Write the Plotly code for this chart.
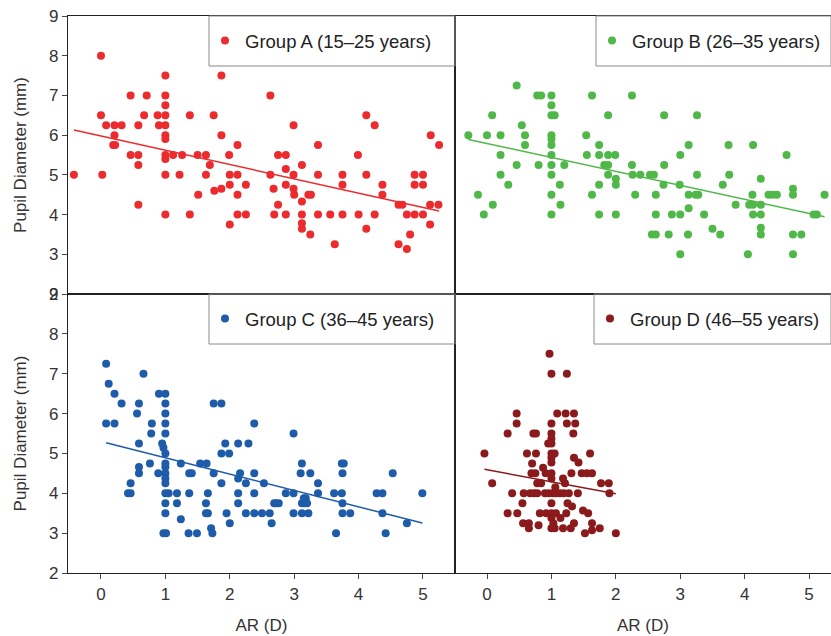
import numpy as np
import plotly.graph_objects as go

# ---------------- data ----------------
groups = ["Group A (15\u201325 years)", "Group B (26\u201335 years)",
          "Group C (36\u201345 years)", "Group D (46\u201355 years)"]
colors = ["#EC2B2E", "#4FB848", "#1E5BA8", "#8A1A1C"]

A_x = [-0.42, 0, 0, 0.02, 0.08, 0.21, 0.32, 0.21, 0.19, 0.22, 0.46, 0.71, 0.67, 0.58, 0.46, 0.58, 0.58, 0.58,
       0.88, 0.9, 1, 1, 1, 1, 1, 1, 1, 1, 1, 1, 1, 1.12, 1.22, 1.26, 1.38, 1.38, 1.5, 1.51, 1.63, 1.69, 1.63,
       1.75, 1.87, 1.87, 1.76, 1.87, 1.99, 2.0, 2.12, 2.12, 2.0, 2.12, 2.25, 2.12, 2.25, 2.0,
       2.63, 2.99, 2.75, 2.87, 3.12, 3.37, 2.63, 2.87, 2.99, 2.68, 2.87, 2.99, 3.0, 2.75, 3.12, 3.22, 3.26,
       2.69, 2.87, 3.12, 3.12, 3.12, 3.25, 3.37, 3.37, 3.56, 3.63, 3.75, 3.75, 3.75, 3.99, 4.12, 4.25, 4.12,
       4.0, 4.25, 4.12, 4.37, 4.37, 4.62, 4.68, 4.75, 4.87, 5.0, 4.87, 5.0, 4.87, 5.0, 4.8, 4.62, 4.75,
       5.11, 5.24, 5.12, 5.25, 5.11]
A_y = [5.0, 8.0, 6.5, 5.0, 6.25, 6.25, 6.25, 6.0, 5.75, 5.75, 7.0, 7.0, 6.5, 6.25, 5.5, 5.5, 5.25, 4.25,
       6.5, 6.25, 7.5, 7.0, 6.75, 6.5, 6.25, 6.0, 5.9, 5.5, 5.4, 5.0, 4.0, 5.5, 5.0, 5.5, 6.5, 4.0, 5.5, 4.5,
       5.5, 5.25, 5.0, 6.5, 7.5, 6.0, 4.6, 4.65, 5.5, 5.0, 5.0, 5.75, 4.75, 4.5, 4.75, 4.0, 4.0, 3.75,
       7.0, 6.25, 5.5, 5.5, 5.25, 5.75, 5.0, 5.15, 5.0, 4.65, 4.75, 4.65, 4.5, 4.25, 4.33, 4.5, 4.5,
       4.0, 4.0, 4.0, 3.78, 3.64, 3.5, 5.0, 4.0, 4.0, 3.25, 5.0, 4.75, 4.0, 5.5, 6.5, 6.25, 5.0,
       4.0, 4.0, 3.64, 4.75, 4.5, 4.25, 4.25, 4.0, 4.0, 4.0, 5.0, 5.0, 4.75, 4.75, 3.5, 3.25, 3.13,
       4.25, 4.25, 6.0, 5.75, 3.75]

B_x = [-0.29, 0, 0.21, 0.08, -0.14, -0.05, 0.09, 0.21, 0.21, 0.33, 0.46, 0.46, 0.54, 0.59, 0.59, 0.78, 0.84,
       0.8, 1, 1, 1, 1.05, 1, 1, 1, 1, 1, 1, 1, 1, 1.13, 1.14, 1.2, 1.54, 1.55, 1.63, 1.63, 1.74, 1.74, 1.88,
       1.82, 1.88, 1.88, 1.88, 1.74, 1.74, 1.99, 2.0, 2.0, 2.0, 2.25, 2.25, 2.26, 2.38, 2.3,
       2.53, 2.59, 2.75, 3.26, 2.75, 2.74, 2.99, 2.62, 3.0, 3.13, 3.26, 3.13, 3.24, 3.28, 3.13, 2.62, 2.87,
       3.0, 3.37, 2.56, 2.62, 2.82, 3.12, 3.0, 3.5, 3.62, 3.66, 3.75, 3.76, 3.86, 4.13, 4.07, 4.13, 4.12,
       4.13, 4.25, 4.25, 4.25, 4.25, 4.25, 4.05, 4.37, 4.43, 4.5, 4.65, 4.75, 4.75, 4.75, 4.88, 4.75,
       5.07, 5.12, 5.24]
B_y = [6.0, 6.0, 6.0, 6.5, 4.5, 4.0, 4.25, 5.5, 5.0, 4.75, 7.25, 5.25, 6.25, 6.0, 5.75, 7.0, 7.0,
       5.25, 7.0, 6.75, 6.5, 6.5, 6.0, 5.9, 5.75, 5.5, 5.25, 5.0, 4.5, 4.0, 4.75, 4.25, 5.25, 6.0, 5.5, 7.0,
       4.5, 5.75, 5.5, 5.5, 5.25, 5.25, 6.5, 5.0, 4.75, 4.0, 5.5, 4.9, 4.75, 4.0, 7.0, 5.25, 5.0, 5.0, 4.5,
       5.0, 5.0, 6.5, 6.5, 5.25, 4.75, 4.75, 4.5, 5.5, 5.75, 5.0, 4.5, 4.5, 4.5, 4.16, 4.0, 4.0,
       4.0, 4.0, 3.5, 3.5, 3.5, 3.5, 3.0, 3.64, 3.5, 4.75, 5.75, 5.0, 4.25, 5.75, 4.25, 4.25, 4.5,
       4.0, 4.0, 4.9, 4.25, 3.67, 3.5, 3.0, 4.5, 4.5, 4.5, 5.5, 4.65, 4.5, 3.5, 3.5, 3.0,
       4.0, 4.0, 4.5]

C_x = [0.08, 0.12, 0.21, 0.32, 0.08, 0.21, 0.66, 0.59, 0.56, 0.59, 0.59, 0.59, 0.46, 0.42, 0.46, 0.76, 0.79,
       0.78, 0.9, 1, 1, 1, 1, 1, 0.95, 0.97, 1, 1, 1, 1, 1, 1, 0.89, 1, 1.05, 1, 1, 0.97, 1.01, 1.18, 1.18,
       1.24, 1.24, 1.37, 1.41, 1.37, 1.36, 1.49, 1.54, 1.64, 1.63, 1.63, 1.66, 1.66, 1.71, 1.73, 1.75, 1.75,
       1.87, 1.87, 1.93, 1.87, 1.99, 1.95, 2.0, 2.13, 2.13, 2.16, 2.13, 2.13, 2.25, 2.29, 2.38, 2.38, 2.38,
       2.25, 2.38, 2.5, 2.53, 2.62, 2.65, 2.69, 2.72, 2.76, 2.87, 2.99, 2.99, 2.99, 3.12, 3.1, 3.25, 3.12,
       3.16, 3.2, 3.15, 3.18, 3.12, 3.22, 3.37, 3.37, 3.62, 3.65, 3.74, 3.77, 3.75, 3.74, 3.75, 3.75, 3.87,
       4.28, 4.37, 4.53, 4.37, 4.42, 4.75, 4.99]
C_y = [7.25, 6.75, 6.5, 6.25, 5.75, 5.75, 7.0, 6.25, 6.0, 5.25, 4.66, 4.5, 4.25, 4.0, 4.0, 4.75, 5.75,
       5.5, 6.5, 6.5, 6.25, 6.0, 5.75, 5.5, 5.25, 5.14, 5.0, 4.75, 4.66, 4.5, 4.37, 4.25, 4.5, 4.0, 4.0,
       3.75, 3.5, 3.0, 3.0, 4.0, 3.75, 4.75, 3.35, 4.5, 4.5, 4.0, 3.0, 3.0, 4.75, 4.75, 3.75, 3.5, 3.5, 4.0,
       3.12, 3.0, 4.5, 6.25, 6.25, 4.25, 5.25, 5.0, 5.0, 3.5, 3.25, 5.25, 4.37, 4.5, 4.0, 3.75, 4.25, 5.25,
       5.75, 4.5, 4.0, 3.5, 3.5, 3.5, 4.25, 3.5, 3.25, 3.75, 3.75, 3.75, 4.0, 5.5, 4.0, 3.5, 4.75, 4.5,
       4.5, 3.75, 3.75, 3.75, 3.875, 3.875, 3.5, 3.5, 4.25, 4.0, 4.0, 3.0, 4.75, 4.75, 4.5, 4.0, 3.75,
       3.5, 3.5, 4.0, 4.0, 4.5, 3.5, 3.0, 3.25, 4.0]

D_x = [0.97, 1.0, 1.24, 0.46, 0.46, 0.32, 0.72, 0.76, 1.0, 1.0, 1.0, 0.95, 1.0, 1.09, 1.22, 1.35, 1.24, 1.37,
       1.34, -0.04, 0.62, 0.76, 1.0, 1.05, 1.0, 1.0, 0.7, 1.35, 1.42, 1.6, 0.87, 0.69, 0.75, 0.91, 1.0, 1.31,
       1.47, 1.55, 1.63, 1.0, 1.18, 0.08, 0.78, 0.84, 1.21, 1.77, 1.89, 0.39, 0.57, 0.67, 0.73, 0.78, 0.9,
       0.96, 1.02, 1.07, 1.13, 1.19, 1.27, 1.41, 1.9, 1.06, 0.55, 1.0, 1.25, 1.32, 0.32, 0.47, 0.82, 0.92,
       1.0, 1.07, 1.23, 1.49, 1.57, 1.0, 1.14, 0.56, 0.65, 0.8, 0.65, 1.0, 1.05, 1.18, 1.35, 1.3, 1.63,
       1.63, 1.75, 1.52, 2.0, 1.03]
D_y = [7.5, 7.0, 7.0, 6.0, 5.75, 5.5, 5.5, 5.5, 5.75, 5.5, 5.37, 5.25, 5.25, 6.0, 6.0, 6.0, 5.75, 5.75,
       5.5, 5.0, 5.0, 5.0, 5.0, 5.0, 4.89, 4.77, 4.75, 4.89, 4.77, 5.0, 4.64, 4.5, 4.5, 4.5, 4.5, 4.5,
       4.5, 4.5, 4.5, 4.37, 4.37, 4.25, 4.25, 4.25, 4.25, 4.25, 4.25, 4.0, 4.0, 4.0, 4.0, 4.0, 4.0,
       4.0, 4.0, 4.0, 4.0, 4.0, 4.0, 4.0, 4.0, 4.15, 3.75, 3.75, 3.75, 3.67, 3.5, 3.5, 3.5, 3.5,
       3.5, 3.5, 3.5, 3.57, 3.5, 3.38, 3.38, 3.25, 3.25, 3.2, 3.12, 3.12, 3.12, 3.12, 3.25, 3.12, 3.25,
       3.07, 3.12, 3.0, 3.0, 3.25]

# regression lines: (intercept, slope)
trend = [(5.98, -0.36), (5.79, -0.352), (5.30, -0.41), (4.59, -0.30)]

xs = [A_x, B_x, C_x, D_x]
ys = [A_y, B_y, C_y, D_y]

y_ticks = [2, 3, 4, 5, 6, 7, 8, 9]
x_ticks = [0, 1, 2, 3, 4, 5]
x_title = "AR (D)"
y_title = "Pupil Diameter (mm)"

# ---------------- layout geometry ----------------
W, H = 831, 636
ml, mr, mt, mb = 68, 0, 16, 63
pw, ph = W - ml - mr, H - mt - mb


def px2paper_x(sx):
    return (sx - ml) / pw


def px2paper_y(sy):
    return (H - mb - sy) / ph


xsplit = px2paper_x(455)
ysplit = px2paper_y(294)

FONT = "Liberation Sans, Arial, sans-serif"
fig = go.Figure()

axes = [("x", "y"), ("x2", "y2"), ("x3", "y3"), ("x4", "y4")]
legends = ["legend", "legend2", "legend3", "legend4"]

for i in range(4):
    xa, ya = axes[i]
    fig.add_trace(go.Scatter(
        x=xs[i], y=ys[i], mode="markers", name=groups[i],
        marker=dict(color=colors[i], size=8, line=dict(width=0)),
        xaxis=xa, yaxis=ya, legend=legends[i], showlegend=True))
    b0, b1 = trend[i]
    lx = np.array([min(xs[i]), max(xs[i])])
    fig.add_trace(go.Scatter(
        x=lx, y=b0 + b1 * lx, mode="lines",
        line=dict(color=colors[i], width=1.5),
        xaxis=xa, yaxis=ya, showlegend=False, hoverinfo="skip"))

common = dict(showline=True, linecolor="#222", linewidth=1.3, mirror=True,
              showgrid=False, zeroline=False, automargin=False)
tickfont = dict(family=FONT, size=17, color="#333")
titlefont = dict(family=FONT, size=17, color="#333")

left_x = [-0.512, 5.497]
right_x = [-0.497, 5.34]

lay = dict(
    width=W, height=H, margin=dict(l=ml, r=mr, t=mt, b=mb, autoexpand=False),
    paper_bgcolor="white", plot_bgcolor="white",
    font=dict(family=FONT, color="#222"),
    xaxis=dict(domain=[0, xsplit], range=left_x, anchor="y", showticklabels=False, ticks="", **common),
    yaxis=dict(domain=[ysplit, 1], range=[2, 9], anchor="x", tickvals=y_ticks, ticks="outside",
               ticklen=5, tickcolor="#444", tickfont=tickfont, ticklabeloverflow="allow",
               title=dict(text=y_title, font=titlefont, standoff=18), **common),
    xaxis2=dict(domain=[xsplit, 1], range=right_x, anchor="y2", showticklabels=False, ticks="", **common),
    yaxis2=dict(domain=[ysplit, 1], range=[2, 9], anchor="x2", showticklabels=False, ticks="", **common),
    xaxis3=dict(domain=[0, xsplit], range=left_x, anchor="y3", tickvals=x_ticks, ticks="outside",
                ticklen=5, tickcolor="#444", tickfont=tickfont,
                title=dict(text=x_title, font=titlefont, standoff=16), **common),
    yaxis3=dict(domain=[0, ysplit], range=[2, 9], anchor="x3", tickvals=y_ticks, ticks="outside",
                ticklen=5, tickcolor="#444", tickfont=tickfont,
                title=dict(text=y_title, font=titlefont, standoff=18), **common),
    xaxis4=dict(domain=[xsplit, 1], range=right_x, anchor="y4", tickvals=x_ticks, ticks="outside",
                ticklen=5, tickcolor="#444", tickfont=tickfont,
                title=dict(text=x_title, font=titlefont, standoff=16), **common),
    yaxis4=dict(domain=[0, ysplit], range=[2, 9], anchor="x4", showticklabels=False, ticks="", **common),
)

# legend boxes (pixel positions from the reference) and legends inside them
boxes = [(209, 455, 16, 66), (596, 831, 16, 66), (209, 455, 294, 344), (594, 831, 294, 344)]
shapes = []
for i, (bx0, bx1, by0, by1) in enumerate(boxes):
    shapes.append(dict(type="rect", xref="paper", yref="paper",
                       x0=px2paper_x(bx0), x1=px2paper_x(bx1),
                       y0=px2paper_y(by1), y1=px2paper_y(by0),
                       line=dict(color="#8a8a8a", width=1), fillcolor="rgba(0,0,0,0)", layer="above"))
    lay[legends[i]] = dict(
        x=px2paper_x(bx0 - 4), y=px2paper_y((by0 + by1) / 2),
        xanchor="left", yanchor="middle", bgcolor="rgba(0,0,0,0)", borderwidth=0,
        font=dict(family=FONT, size=18.5, color="#222"), itemwidth=30)
lay["shapes"] = shapes

fig.update_layout(**lay)
# remove the browser's default 8px body margin so the figure fills the window exactly
fig.write_html("out.html", config={"displayModeBar": False},
               post_script="document.body.style.margin='0px';")
